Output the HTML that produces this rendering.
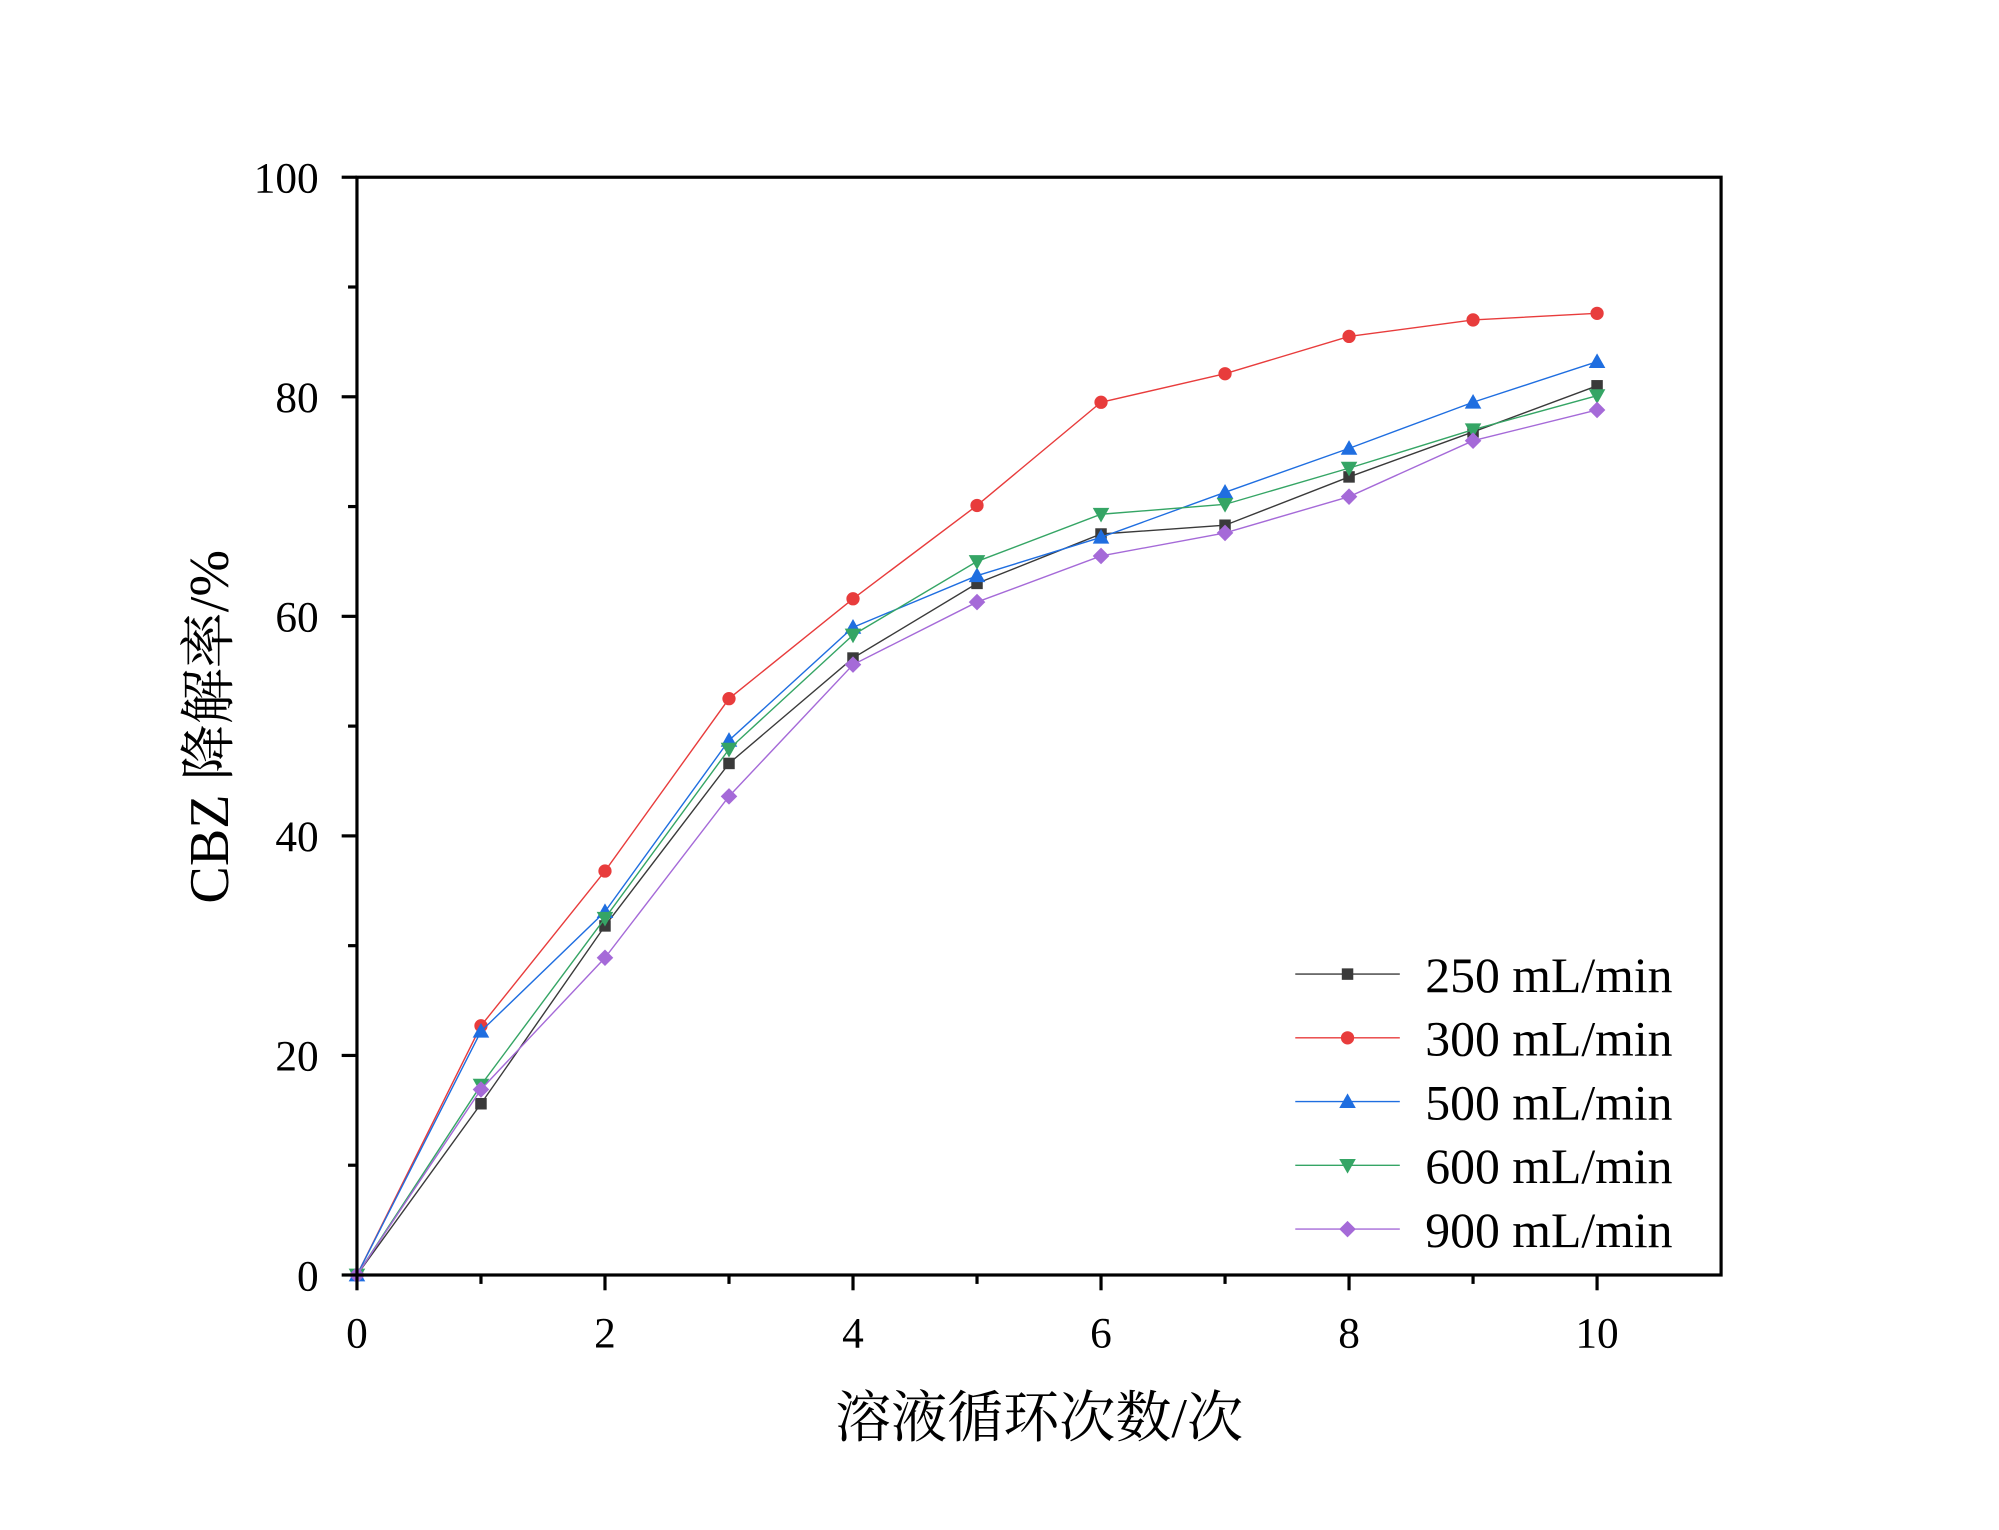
<!DOCTYPE html>
<html><head><meta charset="utf-8"><style>
html,body{margin:0;padding:0;background:#fff;}
svg{display:block;}
text{font-family:"Liberation Serif","Noto Serif CJK SC",serif;fill:#000;}
</style></head><body>
<svg id="chart" width="1999" height="1530" viewBox="0 0 1568 1200" preserveAspectRatio="none" xmlns="http://www.w3.org/2000/svg">
<g id="grid"></g>
<g id="series"></g>
<g id="legend"></g>
<rect x="280" y="139" width="1070" height="861" fill="none" stroke="#000" stroke-width="2.5"/>
<g id="axes"></g>
<text x="815" y="1127" font-size="44" text-anchor="middle">溶液循环次数/次</text>
<text transform="translate(179,570) rotate(-90)" font-size="44" text-anchor="middle">CBZ 降解率/%</text>
</svg>
<script>
const categories=[0,1,2,3,4,5,6,7,8,9,10];
const seriesNames=["250 mL/min","300 mL/min","500 mL/min","600 mL/min","900 mL/min"];
const s250=[0,15.6,31.8,46.6,56.2,63,67.5,68.3,72.7,76.8,81];
const s300=[0,22.7,36.8,52.5,61.6,70.1,79.5,82.1,85.5,87,87.6];
const s500=[0,22.2,33.1,48.7,59,63.7,67.2,71.3,75.3,79.5,83.2];
const s600=[0,17.3,32.5,47.9,58.3,65,69.3,70.2,73.5,77,80.1];
const s900=[0,16.9,28.9,43.6,55.6,61.3,65.5,67.6,70.9,76,78.8];
const xTicks=[0,2,4,6,8,10];
const yTicks=[0,20,40,60,80,100];

const NS="http://www.w3.org/2000/svg";
const L=280,R=1350,T=139,B=1000;
const xMax=11,yMax=100;
function xs(v){return L+(v/xMax)*(R-L);}
function ys(v){return B-(v/yMax)*(B-T);}
function mk(tag,attrs,parent){const e=document.createElementNS(NS,tag);for(const k in attrs)e.setAttribute(k,attrs[k]);parent.appendChild(e);return e;}

const axes=document.getElementById('axes');
for(let i=0;i<=10;i++){
  const major=i%2===0;
  const t=mk('line',{x1:xs(i),x2:xs(i),y1:B,y2:B+(major?12:7),stroke:'#000','stroke-width':2.5},axes);
  
  
}
xTicks.forEach(v=>{
  const t=mk('text',{x:xs(v),y:B+57,'font-size':34,'text-anchor':'middle'},axes);
  t.textContent=v;
  
  
});
for(let v=0;v<=100;v+=10){
  const major=v%20===0;
  const t=mk('line',{x1:L-(major?12:7),x2:L,y1:ys(v),y2:ys(v),stroke:'#000','stroke-width':2.5},axes);
  
  
}
yTicks.forEach(v=>{
  const t=mk('text',{x:L-30,y:ys(v)+12,'font-size':34,'text-anchor':'end'},axes);
  t.textContent=v;
  
  
});

const data=[s250,s300,s500,s600,s900];
const colors=['#3a3a3a','#e83c3c','#1f6ee0','#35a565','#a56ad8'];
const shapes=['square','circle','triangle','down','diamond'];
function marker(shape,x,y,c,parent){
  let e;
  if(shape==='square')e=mk('rect',{x:x-4.5,y:y-4.5,width:9,height:9,fill:c},parent);
  else if(shape==='circle')e=mk('circle',{cx:x,cy:y,r:5.2,fill:c},parent);
  else if(shape==='triangle')e=mk('polygon',{points:`${x},${y-6.5} ${x+6.5},${y+5} ${x-6.5},${y+5}`,fill:c},parent);
  else if(shape==='down')e=mk('polygon',{points:`${x},${y+6.5} ${x+6.5},${y-5} ${x-6.5},${y-5}`,fill:c},parent);
  else e=mk('polygon',{points:`${x},${y-6.5} ${x+6.5},${y} ${x},${y+6.5} ${x-6.5},${y}`,fill:c},parent);
  return e;
}
const sg=document.getElementById('series');
data.forEach((arr,si)=>{
  const g=mk('g',{},sg);
  
  
  const pts=arr.map((v,i)=>xs(categories[i])+','+ys(v)).join(' ');
  const pl=mk('polyline',{points:pts,fill:'none',stroke:colors[si],'stroke-width':1.1},g);
  
  
  arr.forEach((v,i)=>{
    const m=marker(shapes[si],xs(categories[i]),ys(v),colors[si],g);
    
    
  });
});
const lg=document.getElementById('legend');
seriesNames.forEach((n,i)=>{
  const y=764+i*50;
  const g=mk('g',{},lg);
  
  
  mk('line',{x1:1016,x2:1098,y1:y,y2:y,stroke:colors[i],'stroke-width':1.1},g);
  marker(shapes[i],1057,y,colors[i],g);
  const t=mk('text',{x:1118,y:y+14,'font-size':39},g);
  t.textContent=n;
});
</script>
</body></html>
